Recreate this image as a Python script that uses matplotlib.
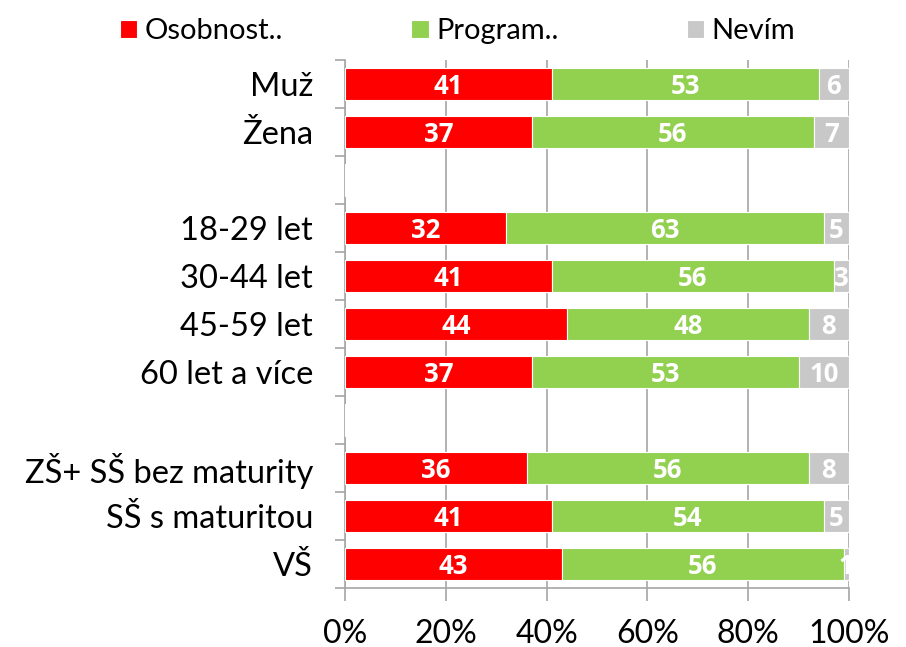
import matplotlib
matplotlib.use("Agg")
import matplotlib.pyplot as plt
import numpy as np

categories = ["Muž", "Žena", "", "18-29 let", "30-44 let", "45-59 let", "60 let a více",
              "", "ZŠ+ SŠ bez maturity", "SŠ s maturitou", "VŠ"]
osobnost = [41, 37, None, 32, 41, 44, 37, None, 36, 41, 43]
program = [53, 56, None, 63, 56, 48, 53, None, 56, 54, 56]
nevim = [6, 7, None, 5, 3, 8, 10, None, 8, 5, 1]
series_names = ["Osobnost..", "Program..", "Nevím"]
colors = ["#FF0000", "#92D050", "#C8C8C8"]
xticks = [0, 20, 40, 60, 80, 100]

plt.rcParams['font.family'] = ['Lato', 'DejaVu Sans']

fig = plt.figure(figsize=(9.06, 6.47), dpi=100)
ax = fig.add_axes([0.381, 0.091, 0.556, 0.816])

n = len(categories)
y = np.arange(n)
series = [osobnost, program, nevim]
left = np.zeros(n)
handles = []
for vals, col, name in zip(series, colors, series_names):
    v = np.array([np.nan if a is None else a for a in vals], dtype=float)
    vv = np.nan_to_num(v)
    h = ax.barh(y, vv, left=left, height=0.66, color=col, edgecolor="white",
                linewidth=0.8, label=name, zorder=3)
    handles.append(h)
    for i in range(n):
        if not np.isnan(v[i]):
            ax.text(left[i] + vv[i] / 2, y[i] + 0.04, f"{int(v[i])}", ha="center", va="center",
                    color="white", fontsize=18.5, fontweight="bold",
                    family=["Open Sans", "DejaVu Sans"], zorder=4, clip_on=True)
    left = left + vv

ax.set_xlim(0, 100)
ax.set_ylim(n - 0.5, -0.5)
ax.set_xticks(xticks)
ax.set_xticklabels([f"{t}%" for t in xticks], fontsize=23)
ax.set_yticks(y)
ax.set_yticklabels(categories, fontsize=23.5)
ax.tick_params(axis="y", which="major", length=0, pad=23)
ax.set_yticks(np.arange(-0.5, n, 1.0), minor=True)
ax.tick_params(axis="y", which="minor", length=7, color="#A6A6A6", width=1.2, direction="out")
ax.tick_params(axis="x", length=9, color="#A6A6A6", width=1.2, direction="out", pad=13)
ax.grid(axis="x", color="#A6A6A6", linewidth=1.2, zorder=0)
for s in ["top", "right"]:
    ax.spines[s].set_visible(False)
for s in ["left", "bottom"]:
    ax.spines[s].set_color("#A6A6A6")
    ax.spines[s].set_linewidth(1.2)

fig.legend(handles=handles, labels=series_names, loc="upper center", ncol=3,
           bbox_to_anchor=(0.505, 1.012), frameon=False, fontsize=21,
           handlelength=0.6, handleheight=0.6, handletextpad=0.25, columnspacing=4.4)

fig.savefig("out.png", dpi=100)
